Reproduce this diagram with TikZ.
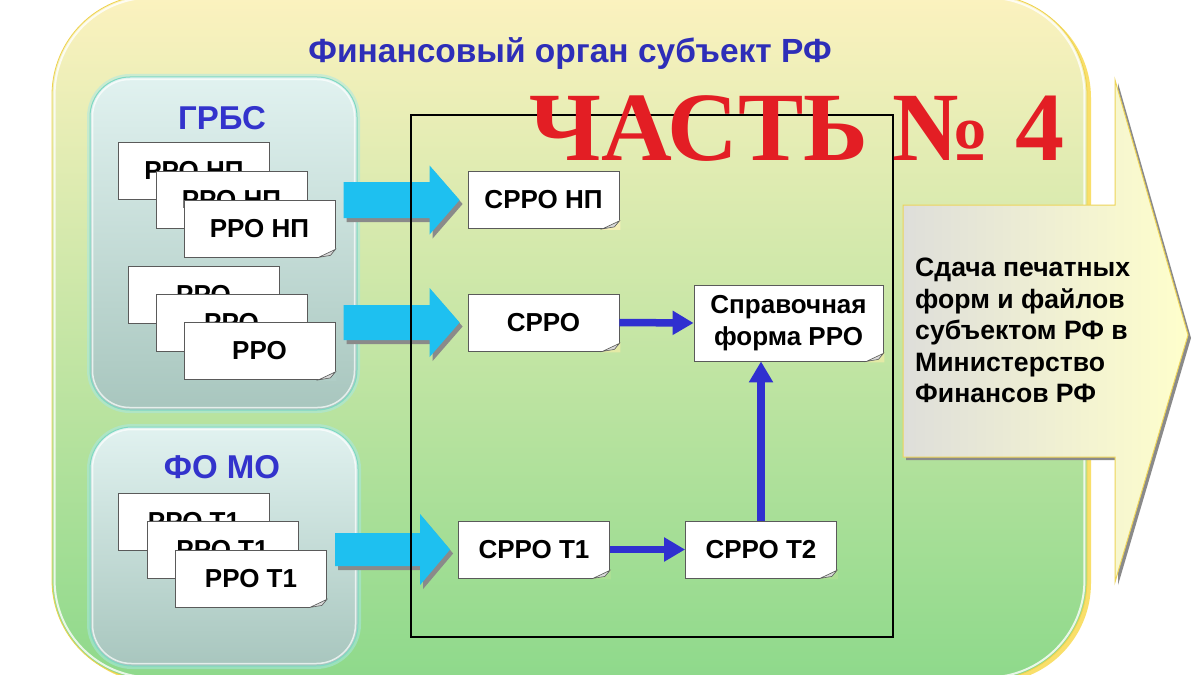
\documentclass[tikz,border=0pt]{standalone}
\usepackage{fontspec}
\setmainfont{Liberation Sans}
\newfontfamily\serifbf{Liberation Serif}
\usetikzlibrary{arrows.meta,calc}
\definecolor{mtop}{HTML}{FCF2BF}
\definecolor{mmid}{HTML}{E4EAA6}
\definecolor{mbot}{HTML}{8ED98B}
\definecolor{mborder}{HTML}{EFD24E}
\definecolor{mshadow}{HTML}{F9DF6A}
\definecolor{gtop}{HTML}{E1F2F0}
\definecolor{gbot}{HTML}{A8C6BE}
\definecolor{gborder}{HTML}{7FD9C4}
\definecolor{glow}{HTML}{A8E8E8}
\definecolor{labelblue}{HTML}{3333CC}
\definecolor{titleblue}{HTML}{2E2EB8}
\definecolor{docborder}{HTML}{5A5A5A}
\definecolor{foldc}{HTML}{D9D9D9}
\definecolor{arrblue}{HTML}{3030D0}
\definecolor{cyanc}{HTML}{1EC0F0}
\definecolor{shadowgray}{HTML}{8A8A8A}
\definecolor{arrgray}{HTML}{DEDEDA}
\definecolor{arrylw}{HTML}{FFFFCC}
\definecolor{arrborder}{HTML}{EDD45A}
\definecolor{partred}{HTML}{E31E24}
\tikzset{
  doc/.style={draw=docborder, fill=white, line width=0.8pt, minimum width=151pt,
    minimum height=57pt, inner sep=0pt, font=\bfseries\fontsize{26}{30}\selectfont},
  grouplabel/.style={font=\bfseries\fontsize{33}{36}\selectfont, inner sep=0pt, text=labelblue},
  groupbox/.style={rounded corners=40pt, draw=gborder, line width=1pt,
    top color=gtop, bottom color=gbot, inner sep=0pt},
  bluearrow/.style={draw=arrblue, line width=7.5pt, -{Triangle[length=21pt,width=23pt]}},
}
\newcommand\fold[2]{%
  \fill[#2] ([xshift=-18pt,yshift=-1pt]#1.south east) -- ([xshift=1pt,yshift=-1pt]#1.south east)
     -- ([xshift=1pt,yshift=9pt]#1.south east) -- cycle;
  \filldraw[fill=foldc, draw=docborder, line width=0.6pt] ([xshift=-17pt]#1.south east)
     -- ([yshift=8pt]#1.south east) -- ([xshift=-5pt,yshift=2pt]#1.south east) -- cycle;}
\newcommand\blockarrow[4]{%
  \begin{scope}[shift={($(#1.west)+(-8,0)$)}]
    \fill[shadowgray] (-#2+3,-#3+4) -- (-27,-#3+4) -- (-27,-#4+4) -- (3,4) -- (-27,#4+4)
       -- (-27,#3+4) -- (-#2+3,#3+4) -- cycle;
    \fill[cyanc] (-#2,-#3) -- (-30,-#3) -- (-30,-#4) -- (0,0) -- (-30,#4) -- (-30,#3)
       -- (-#2,#3) -- cycle;
  \end{scope}}
\begin{document}
\begin{tikzpicture}[x=1pt,y=-1pt]
\useasboundingbox (0,0) rectangle (1198,674);
\fill[white] (0,0) rectangle (1198,674);
% main container
\fill[mshadow, rounded corners=100pt] (56,-2) rectangle (1091,683);
\node[rounded corners=100pt, draw=mborder, line width=0.8pt, top color=mtop, middle color=mmid,
  bottom color=mbot, minimum width=1035pt, minimum height=685pt, inner sep=0pt] (fo) at (569.5,337.5) {};
\draw[white, line width=2pt, opacity=0.8, rounded corners=97pt]
  ([xshift=3pt,yshift=-3pt]fo.north west) rectangle ([xshift=-3pt,yshift=3pt]fo.south east);
% title
\node[font=\bfseries\fontsize{33.5}{36}\selectfont, text=titleblue] (title) at (570,54) {Финансовый орган субъект РФ};
% groups
\draw[glow, line width=6pt, opacity=0.5, rounded corners=40pt] (90,77) rectangle (357,410);
\node[groupbox, minimum width=267pt, minimum height=333pt] (grbs) at (223.5,243.5) {};
\draw[white, line width=1.5pt, opacity=0.7, rounded corners=37pt]
  ([xshift=3pt,yshift=-3pt]grbs.north west) rectangle ([xshift=-3pt,yshift=3pt]grbs.south east);
\draw[glow, line width=6pt, opacity=0.5, rounded corners=42pt] (90,427) rectangle (358,666);
\node[groupbox, rounded corners=42pt, minimum width=268pt, minimum height=239pt] (fomo) at (224,546.5) {};
\draw[white, line width=1.5pt, opacity=0.7, rounded corners=39pt]
  ([xshift=3pt,yshift=-3pt]fomo.north west) rectangle ([xshift=-3pt,yshift=3pt]fomo.south east);
\node[grouplabel] (grbsl) at (222,118) {ГРБС};
\node[grouplabel] (fomol) at (222,467) {ФО МО};
% document stacks
\node[doc] (g1) at (194,171) {РРО НП};
\node[doc] (g2) at (231.5,200) {РРО НП};
\node[doc] (g3) at (259.5,228.5) {РРО НП};
\fold{g3}{gtop!45!gbot}
\node[doc] (g4) at (203.5,294.5) {РРО};
\node[doc] (g5) at (231.5,322.5) {РРО};
\node[doc] (g6) at (259.5,351) {РРО};
\fold{g6}{gtop!15!gbot}
\node[doc] (f1) at (194,521.5) {РРО Т1};
\node[doc] (f2) at (222.5,549.5) {РРО Т1};
\node[doc] (f3) at (251,578.5) {РРО Т1};
\fold{f3}{gtop!25!gbot}
% right side documents
\node[doc] (s1) at (543.5,200) {СРРО НП};
\fold{s1}{mtop!70!mmid}
\node[doc] (s2) at (543.5,322.5) {СРРО};
\fold{s2}{mmid}
\node[doc, minimum width=189pt, minimum height=76pt, align=center,
  font=\bfseries\fontsize{26}{32}\selectfont] (sp) at (788.5,323) {Справочная\\форма РРО};
\fold{sp}{mmid}
\node[doc] (t1) at (534,549.5) {СРРО Т1};
\fold{t1}{mmid!35!mbot}
\node[doc] (t2) at (761,549.5) {СРРО Т2};
\fold{t2}{mmid!35!mbot}
% cyan block arrows
\blockarrow{s1}{116}{18}{34.5}
\blockarrow{s2}{116}{17.5}{34.5}
\blockarrow{t1}{115}{16.5}{35.5}
% inner frame
\node[draw=black, line width=1.2pt, minimum width=482pt, minimum height=522pt, inner sep=0pt] (frame) at (652,376) {};
% blue arrows
\draw[bluearrow] (s2.east) -- (sp.west);
\draw[bluearrow] (t1.east) -- (t2.west);
\draw[bluearrow] (t2.north) -- (t2.north |- sp.south);
% part label
\node[font=\serifbf\bfseries\fontsize{98}{100}\selectfont, text=partred, inner sep=0pt] (part) at (797,129) {ЧАСТЬ № 4};
% big right arrow
\fill[shadowgray] (906,208) -- (1118,208) -- (1118,83) -- (1191,338) -- (1118,585) -- (1118,460) -- (906,460) -- cycle;
\shadedraw[left color=arrgray, middle color=arrylw, right color=arrylw, draw=arrborder, line width=1pt]
  (903,205) -- (1115,205) -- (1115,80) -- (1188,335) -- (1115,582) -- (1115,457) -- (903,457) -- cycle;
\node[anchor=north west, align=left, inner sep=0pt, font=\bfseries\fontsize{26.6}{31.5}\selectfont] (send) at (915,258)
  {Сдача печатных\\форм и файлов\\субъектом РФ в\\Министерство\\Финансов РФ};
\end{tikzpicture}
\end{document}
